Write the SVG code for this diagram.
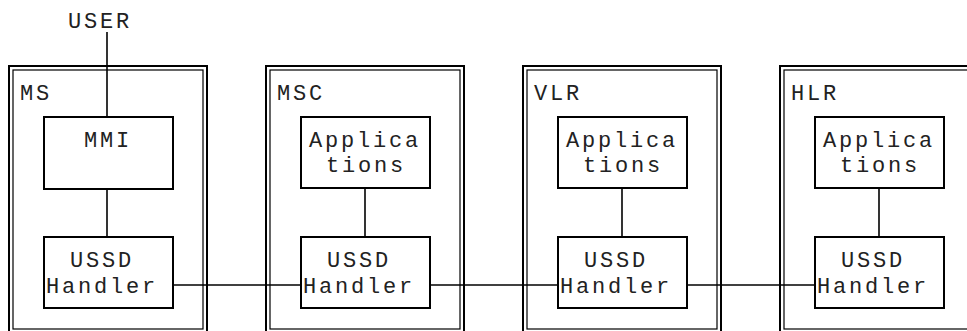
<svg xmlns="http://www.w3.org/2000/svg" width="967" height="331" viewBox="0 0 967 331">
<style>
.outer{fill:none;stroke:#000;stroke-width:2}
.inner{fill:none;stroke:#000;stroke-width:1.2}
.box{fill:#fff;stroke:#000;stroke-width:2}
.t{font-family:"Liberation Mono","DejaVu Sans Mono",monospace;font-size:22px;letter-spacing:2.8px;fill:#222}
.c{text-anchor:middle}
.conn{stroke:#000;stroke-width:1.6;fill:none}
</style>
<rect width="967" height="331" fill="#fff"/>
<g id="MS">
<rect class="outer" x="9" y="66" width="198" height="280"/>
<rect class="inner" x="13" y="70" width="190" height="259"/>
<text class="t" x="20" y="100">MS</text>
</g>
<g id="MSC">
<rect class="outer" x="266" y="66" width="198" height="280"/>
<rect class="inner" x="270" y="70" width="190" height="259"/>
<text class="t" x="277" y="100">MSC</text>
</g>
<g id="VLR">
<rect class="outer" x="523" y="66" width="198" height="280"/>
<rect class="inner" x="527" y="70" width="190" height="259"/>
<text class="t" x="534" y="100">VLR</text>
</g>
<g id="HLR">
<rect class="outer" x="780" y="66" width="198" height="280"/>
<rect class="inner" x="784" y="70" width="190" height="259"/>
<text class="t" x="791" y="100">HLR</text>
</g>
<g id="connectors">
<line class="conn" x1="107" y1="32" x2="107" y2="117"/>
<line class="conn" x1="107" y1="189" x2="107" y2="237"/>
<line class="conn" x1="365" y1="188" x2="365" y2="237"/>
<line class="conn" x1="622" y1="188" x2="622" y2="237"/>
<line class="conn" x1="879" y1="188" x2="879" y2="237"/>
<line class="conn" x1="173" y1="285" x2="302" y2="285"/>
<line class="conn" x1="430" y1="285" x2="559" y2="285"/>
<line class="conn" x1="687" y1="285" x2="816" y2="285"/>
</g>
<g id="USER">
<text class="t c" x="100" y="28">USER</text>
</g>
<g id="MMI">
<rect class="box" x="44" y="117" width="129" height="72"/>
<text class="t c" x="108" y="147">MMI</text>
</g>
<g id="MS_USSD">
<rect class="box" x="44" y="237" width="129" height="71"/>
<text class="t c" x="102" y="267">USSD</text>
<text class="t c" x="102" y="293">Handler</text>
</g>
<g id="MSC_APP">
<rect class="box" x="301" y="117" width="129" height="71"/>
<text class="t c" x="365" y="147">Applica</text>
<text class="t c" x="366" y="172">tions</text>
</g>
<g id="MSC_USSD">
<rect class="box" x="301" y="237" width="129" height="71"/>
<text class="t c" x="359" y="267">USSD</text>
<text class="t c" x="359" y="293">Handler</text>
</g>
<g id="VLR_APP">
<rect class="box" x="558" y="117" width="129" height="71"/>
<text class="t c" x="622" y="147">Applica</text>
<text class="t c" x="623" y="172">tions</text>
</g>
<g id="VLR_USSD">
<rect class="box" x="558" y="237" width="129" height="71"/>
<text class="t c" x="616" y="267">USSD</text>
<text class="t c" x="616" y="293">Handler</text>
</g>
<g id="HLR_APP">
<rect class="box" x="815" y="117" width="129" height="71"/>
<text class="t c" x="879" y="147">Applica</text>
<text class="t c" x="880" y="172">tions</text>
</g>
<g id="HLR_USSD">
<rect class="box" x="815" y="237" width="129" height="71"/>
<text class="t c" x="873" y="267">USSD</text>
<text class="t c" x="873" y="293">Handler</text>
</g>
</svg>
